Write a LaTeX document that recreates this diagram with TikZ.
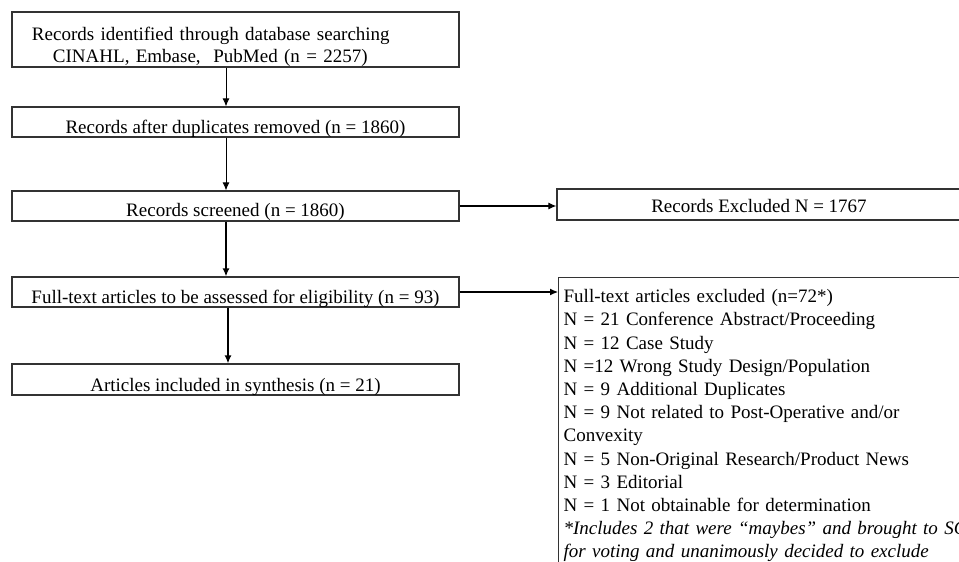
\documentclass[tikz,border=0pt]{standalone}
\usepackage{fontspec}
\setmainfont{Liberation Serif}
\usetikzlibrary{arrows.meta}

\begin{document}
\begin{tikzpicture}[x=1pt,y=-1pt,
	stepbox/.style={shape=rectangle,draw=black!80,line width=1.3pt,inner xsep=0pt,inner ysep=0pt,
		minimum width=447pt,font=\fontsize{19}{23.2}\selectfont},
	flow/.style={-{Latex[length=8pt,width=7pt]},draw=black}]

	\useasboundingbox (0,0) rectangle (959,562);
	\clip (0,0) rectangle (959,562);

	\node[stepbox,text width=447pt,align=left,text height=28pt,text depth=27pt,font=\fontsize{19}{22}\selectfont] (ident) at (235.5,39.5)
		{\hspace*{20pt}Records identified through database searching\\\hspace*{41pt}CINAHL, Embase,\ \ PubMed (n = 2257)};
	\node[stepbox,text height=26pt,text depth=4pt] (dup)  at (235.5,122)   {Records after duplicates removed (n = 1860)};
	\node[stepbox,text height=25pt,text depth=5pt] (scr)  at (235.5,206)   {Records screened (n = 1860)};
	\node[stepbox,text height=26pt,text depth=4pt] (full) at (235.5,292)   {Full-text articles to be assessed for eligibility (n = 93)};
	\node[stepbox,text height=27pt,text depth=4pt] (incl) at (235.5,379.5) {Articles included in synthesis (n = 21)};

	\node[stepbox,minimum width=404pt,text height=23pt,text depth=8pt] (excl) at (759,204.5) {Records Excluded N = 1767};
	\node[stepbox,anchor=north west,minimum width=0pt,text width=393pt,inner xsep=5pt,align=left,
		text height=25pt,text depth=280pt] (ftex) at (558,277)
		{Full-text articles excluded (n=72*)\\
		N = 21 Conference Abstract/Proceeding\\
		N = 12 Case Study\\
		N =12 Wrong Study Design/Population\\
		N = 9 Additional Duplicates\\
		N = 9 Not related to Post-Operative and/or\\
		Convexity\\
		N = 5 Non-Original Research/Product News\\
		N = 3 Editorial\\
		N = 1 Not obtainable for determination\\
		\mbox{\itshape *Includes 2 that were ``maybes'' and brought to SC}\\
		\mbox{\itshape for voting and unanimously decided to exclude}};

	\draw[flow,line width=0.8pt] ([xshift=-9.5pt]ident.south) -- ([xshift=-9.5pt]dup.north);
	\draw[flow,line width=0.8pt] ([xshift=-9.5pt]dup.south) -- ([xshift=-9.5pt]scr.north);
	\draw[flow,line width=1.3pt] ([xshift=-9.5pt]scr.south) -- ([xshift=-9.5pt]full.north);
	\draw[flow,line width=1.3pt] ([xshift=-7.5pt]full.south) -- ([xshift=-7.5pt]incl.north);
	\draw[flow,line width=1.1pt] (scr.east) -- (scr.east -| excl.west);
	\draw[flow,line width=1.1pt] (full.east) -- (full.east -| ftex.west);

\end{tikzpicture}
\end{document}
